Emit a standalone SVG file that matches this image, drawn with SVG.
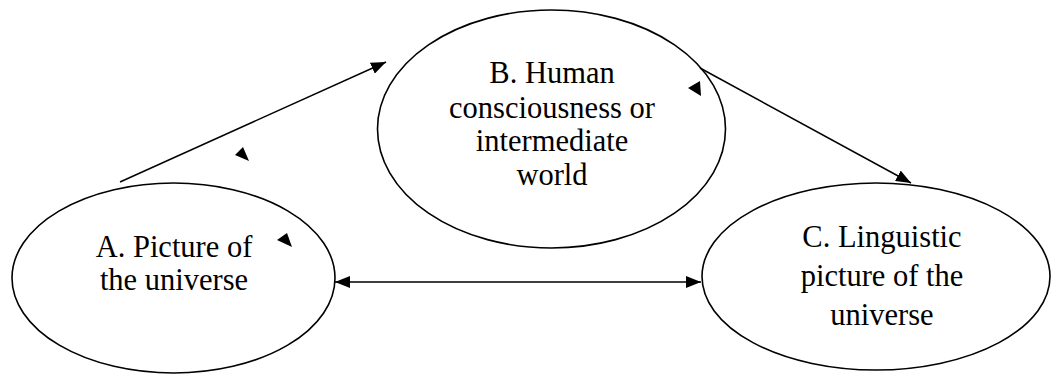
<svg xmlns="http://www.w3.org/2000/svg" width="1053" height="374" viewBox="0 0 1053 374">
  <style>
    .node { fill: #ffffff; stroke: #000000; stroke-width: 1.6; }
    .lbl { font-family: "Liberation Serif", "Times New Roman", serif; font-size: 30.5px; fill: #000000; text-anchor: middle; }
    .conn { stroke: #000000; stroke-width: 1.5; fill: none; }
    .head { fill: #000000; }
  </style>
  <defs>
    <marker id="arr" markerUnits="userSpaceOnUse" markerWidth="15" markerHeight="12" refX="15" refY="6" orient="auto-start-reverse">
      <path d="M0,0 L15,6 L0,12 z" fill="#000000"/>
    </marker>
  </defs>
  <rect width="1053" height="374" fill="#ffffff"/>
  <g id="nodeB">
    <ellipse class="node" cx="551.5" cy="129" rx="174" ry="119"/>
    <text class="lbl" x="552" y="83">B. Human</text>
    <text class="lbl" x="552" y="118">consciousness or</text>
    <text class="lbl" x="552" y="151">intermediate</text>
    <text class="lbl" x="552" y="185">world</text>
  </g>
  <g id="nodeA">
    <ellipse class="node" cx="173.5" cy="278" rx="161.5" ry="95"/>
    <text class="lbl" x="174" y="257">A. Picture of</text>
    <text class="lbl" x="174" y="290">the universe</text>
  </g>
  <g id="connectors">
    <line class="conn" x1="120" y1="182" x2="386" y2="62" marker-end="url(#arr)"/>
    <line class="conn" x1="700" y1="68" x2="911" y2="183" marker-end="url(#arr)"/>
    <line class="conn" x1="335" y1="282" x2="701" y2="282" marker-start="url(#arr)" marker-end="url(#arr)"/>
    <polygon class="head" points="235,155 243,147 249,161"/>
    <polygon class="head" points="277,240 287,233 292,247"/>
    <polygon class="head" points="688,88 700,81 701,96"/>
  </g>
  <g id="nodeC">
    <ellipse class="node" cx="876" cy="276.5" rx="174" ry="93.5"/>
    <text class="lbl" x="882" y="247">C. Linguistic</text>
    <text class="lbl" x="882" y="286">picture of the</text>
    <text class="lbl" x="882" y="325">universe</text>
  </g>
</svg>
